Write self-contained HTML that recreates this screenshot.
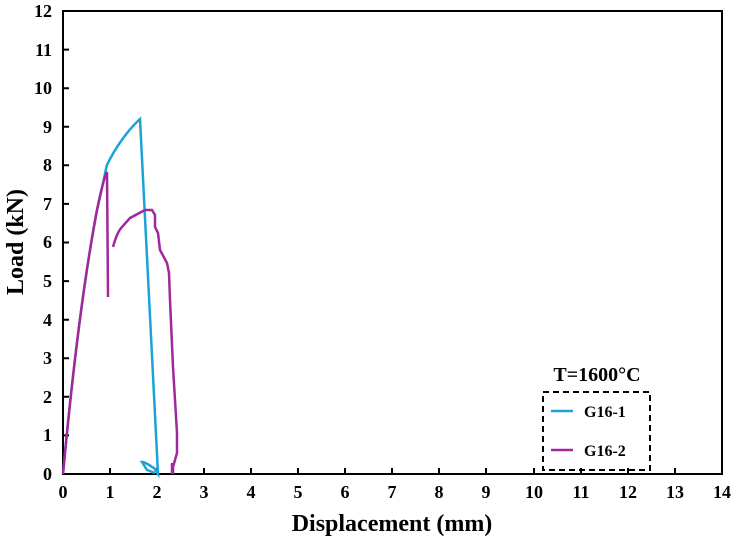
<!DOCTYPE html><html><head><style>body{margin:0;background:#fff}svg{display:block}text{font-family:"Liberation Serif",serif;font-weight:bold}</style></head><body>
<svg width="737" height="544" viewBox="0 0 737 544">
<rect x="63" y="11" width="659" height="463" fill="none" stroke="#000" stroke-width="2"/>
<g stroke="#000" stroke-width="2">
<path d="M63,474v-6M110,474v-6M157,474v-6M204,474v-6M251,474v-6M298,474v-6M345,474v-6M392,474v-6M439,474v-6M486,474v-6M534,474v-6M581,474v-6M628,474v-6M675,474v-6"/>
<path d="M63,474h6M63,435.4h6M63,396.8h6M63,358.3h6M63,319.7h6M63,281.1h6M63,242.5h6M63,203.9h6M63,165.3h6M63,126.8h6M63,88.2h6M63,49.6h6M63,11h6"/>
</g>
<g font-size="18" text-anchor="middle">
<text x="63" y="498">0</text><text x="110" y="498">1</text><text x="157" y="498">2</text><text x="204" y="498">3</text><text x="251" y="498">4</text><text x="298" y="498">5</text><text x="345" y="498">6</text><text x="392" y="498">7</text><text x="439" y="498">8</text><text x="486" y="498">9</text><text x="534" y="498">10</text><text x="581" y="498">11</text><text x="628" y="498">12</text><text x="675" y="498">13</text><text x="722" y="498">14</text>
</g>
<g font-size="18" text-anchor="end">
<text x="52" y="480">0</text><text x="52" y="441">1</text><text x="52" y="403">2</text><text x="52" y="364">3</text><text x="52" y="326">4</text><text x="52" y="287">5</text><text x="52" y="248">6</text><text x="52" y="210">7</text><text x="52" y="171">8</text><text x="52" y="133">9</text><text x="52" y="94">10</text><text x="52" y="56">11</text><text x="52" y="17">12</text>
</g>
<text x="392" y="531" font-size="24" text-anchor="middle">Displacement (mm)</text>
<text transform="translate(23,242) rotate(-90)" font-size="24" text-anchor="middle">Load (kN)</text>
<path d="M63,474 C68,420 80,300 97,210 C102,190 105,172 107,165 C115,148 128,130 140,119 L158,474 L154,468 C150,466 146,462 142,462 L147,470 L155,473" fill="none" stroke="#1ba3d6" stroke-width="2.5"/>
<path d="M63,474 C68,420 80,300 97,210 C101,190 104,178 107,172 L108,297 M113,247 C116,236 119,230 122,227 L130,218 L145,210 L152,210 L155,215 L155,227 L158,233 L160,250 L167,263 L169,273 L170,300 L173,367 L177,433 L177,453 L173,467 L173,474 M172,463 L172,474" fill="none" stroke="#a0289b" stroke-width="2.5"/>
<text x="597" y="381" font-size="20" text-anchor="middle">T=1600°C</text>
<rect x="543" y="392" width="107" height="78" fill="none" stroke="#000" stroke-width="2" stroke-dasharray="6,4"/>
<line x1="551" y1="411" x2="573" y2="411" stroke="#1ba3d6" stroke-width="2.5"/>
<line x1="551" y1="450" x2="573" y2="450" stroke="#a0289b" stroke-width="2.5"/>
<text x="584" y="417" font-size="16">G16-1</text>
<text x="584" y="456" font-size="16">G16-2</text>
</svg></body></html>
